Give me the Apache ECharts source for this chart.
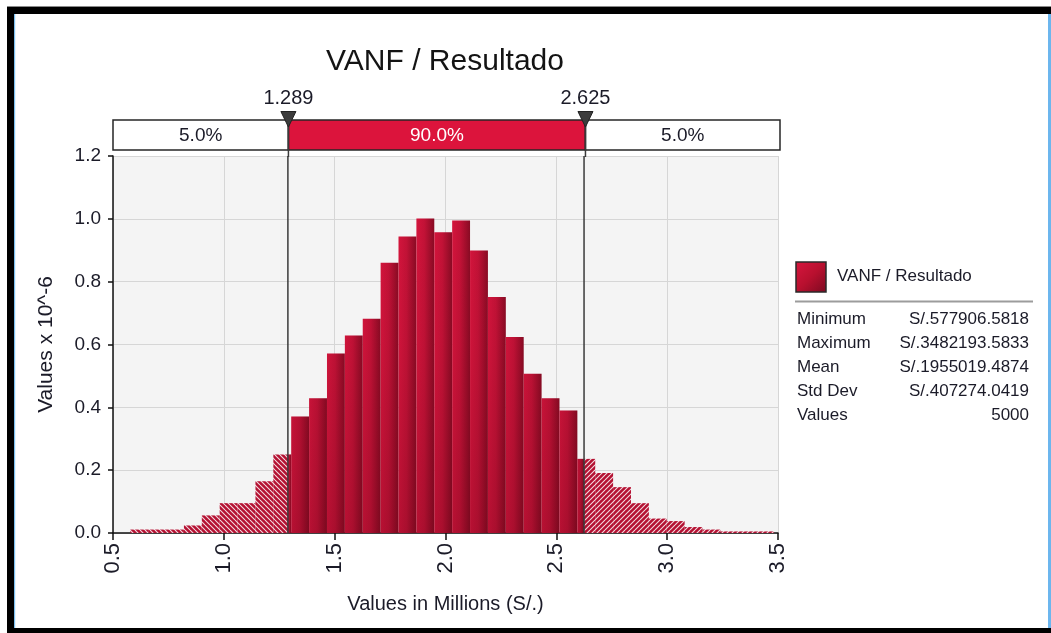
<!DOCTYPE html>
<html>
<head>
<meta charset="utf-8">
<script src="https://cdn.jsdelivr.net/npm/echarts@6/dist/echarts.min.js"></script>
<style>
html,body{margin:0;padding:0;background:#ffffff;}
#chart{width:1051px;height:633px;}
</style>
</head>
<body>
<div id="chart"></div>
<script>
// ---------------- data ----------------
const chartTitle = 'VANF / Resultado';
const xAxisName = 'Values in Millions (S/.)';
const yAxisName = 'Values x 10^-6';
const xRange = [0.5, 3.5];
const xStep = 0.5;
const yRange = [0, 1.2];
const yStep = 0.2;

// histogram: 36 equal bins between the simulated minimum and maximum (millions S/.)
const dataMin = 0.5779065818;
const dataMax = 3.4821935833;
const density = [
  0.011, 0.011, 0.011, 0.024, 0.056, 0.095, 0.095, 0.165, 0.250,
  0.371, 0.429, 0.571, 0.629, 0.682, 0.860, 0.944, 1.001, 0.957,
  0.995, 0.899, 0.751, 0.624, 0.507, 0.429, 0.390, 0.236, 0.191,
  0.146, 0.095, 0.046, 0.038, 0.019, 0.011, 0.005, 0.005, 0.005
];

// delimiters (5% / 95%)
const splitValues = [1.289, 2.625];
const splitLabels = ['1.289', '2.625'];
const bandPercents = ['5.0%', '90.0%', '5.0%'];

// statistics panel
const legendName = 'VANF / Resultado';
const statLabels = ['Minimum', 'Maximum', 'Mean', 'Std Dev', 'Values'];
const statValues = ['S/.577906.5818', 'S/.3482193.5833', 'S/.1955019.4874', 'S/.407274.0419', '5000'];

// ---------------- build ----------------
const FONT = "'Liberation Sans', Arial, sans-serif";
const TXT = '#1b1b28';
const CRIMSON = '#dc143c';

const binW = (dataMax - dataMin) / density.length;
const histData = density.map((d, i) => [dataMin + i * binW, dataMin + (i + 1) * binW, d]);
const bandEdges = [xRange[0]].concat(splitValues, [xRange[1]]);
const bandData = bandPercents.map((p, i) => [bandEdges[i], bandEdges[i + 1], i]);
const lo = splitValues[0], hi = splitValues[1];

function makeHatch(dir) {
  const s = 5;
  const c = document.createElement('canvas');
  c.width = s; c.height = s;
  const g = c.getContext('2d');
  g.fillStyle = '#b41132';
  g.fillRect(0, 0, s, s);
  g.strokeStyle = 'rgba(255,255,255,0.85)';
  g.lineWidth = 1.1;
  for (let k = -1; k <= 2; k++) {
    g.beginPath();
    if (dir === 'back') { g.moveTo(0, k * s); g.lineTo(s, k * s + s); }
    else { g.moveTo(0, k * s); g.lineTo(s, k * s - s); }
    g.stroke();
  }
  return { image: c, repeat: 'repeat' };
}
const hatchLeft = makeHatch('back');
const hatchRight = makeHatch('fwd');

function solidFill() {
  return new echarts.graphic.LinearGradient(0, 0, 1, 0, [
    { offset: 0, color: '#d6153d' },
    { offset: 0.45, color: '#c41237' },
    { offset: 1, color: '#8a0b24' }
  ]);
}

function renderHist(params, api) {
  const x0 = api.value(0), x1 = api.value(1), h = api.value(2);
  const segs = [];
  if (x0 < lo) segs.push([x0, Math.min(x1, lo), hatchLeft]);
  const s0 = Math.max(x0, lo), s1 = Math.min(x1, hi);
  if (s1 > s0) segs.push([s0, s1, null]);
  if (x1 > hi) segs.push([Math.max(x0, hi), x1, hatchRight]);
  const top = api.coord([xRange[0], yRange[1]])[1];
  const base = api.coord([xRange[0], yRange[0]])[1];
  const children = [];
  segs.forEach(sg => {
    const a = api.coord([sg[0], h]);
    const b = api.coord([sg[1], 0]);
    const shape = { x: a[0], y: a[1], width: b[0] - a[0], height: b[1] - a[1] };
    children.push({ type: 'rect', shape, style: { fill: sg[2] || solidFill(), stroke: null } });
    if (!sg[2]) {
      children.push({ type: 'rect', shape, silent: true, style: { stroke: null,
        fill: new echarts.graphic.LinearGradient(0, top, 0, base, [
          { offset: 0, color: 'rgba(60,0,10,0)' },
          { offset: 0.5, color: 'rgba(60,0,10,0.05)' },
          { offset: 1, color: 'rgba(60,0,10,0.2)' }
        ], true) } });
    }
  });
  return { type: 'group', children };
}

function renderSplitLine(params, api) {
  const v = api.value(0);
  const a = api.coord([v, yRange[0]]);
  const b = api.coord([v, yRange[1]]);
  return { type: 'line', shape: { x1: a[0], y1: a[1], x2: b[0], y2: b[1] },
    style: { stroke: '#3a3a3a', lineWidth: 1.5 } };
}

function renderBand(params, api) {
  const a = api.coord([api.value(0), 1]);
  const b = api.coord([api.value(1), 0]);
  const idx = api.value(2);
  const mid = idx === 1;
  return {
    type: 'group',
    children: [
      { type: 'rect', shape: { x: a[0], y: a[1], width: b[0] - a[0], height: b[1] - a[1] },
        style: { fill: mid ? CRIMSON : '#ffffff', stroke: '#262626', lineWidth: 1.5 } },
      { type: 'text', style: { text: bandPercents[idx], x: (a[0] + b[0]) / 2, y: (a[1] + b[1]) / 2 + 1,
        align: 'center', verticalAlign: 'middle', font: '19px ' + FONT, fill: mid ? '#ffffff' : TXT } }
    ]
  };
}

function renderMarker(params, api) {
  const v = api.value(0);
  const i = params.dataIndex;
  const t = api.coord([v, 1]);
  const bt = api.coord([v, 0]);
  const x = t[0], y = t[1];
  return {
    type: 'group',
    children: [
      { type: 'line', shape: { x1: x, y1: y, x2: x, y2: bt[1] + 7 },
        style: { stroke: '#3a3a3a', lineWidth: 1.5 } },
      { type: 'polygon', shape: { points: [[x - 7.5, y - 8.5], [x + 7.5, y - 8.5], [x, y + 7]] },
        style: { fill: '#3c3c3c', stroke: '#222', lineWidth: 1 } },
      { type: 'text', style: { text: splitLabels[i], x: x, y: y - 22, align: 'center', verticalAlign: 'middle',
        font: '20px ' + FONT, fill: TXT } }
    ]
  };
}

// graphics: frame, title, legend & stats
const graphics = [
  { type: 'rect', shape: { x: 7, y: 6, width: 1044, height: 1 }, style: { fill: '#8a8a8a' }, silent: true },
  { type: 'rect', shape: { x: 7, y: 7, width: 1044, height: 7 }, style: { fill: '#000000' }, silent: true },
  { type: 'rect', shape: { x: 7, y: 7, width: 7, height: 626 }, style: { fill: '#000000' }, silent: true },
  { type: 'rect', shape: { x: 7, y: 628, width: 1044, height: 5 }, style: { fill: '#000000' }, silent: true },
  { type: 'rect', shape: { x: 14, y: 14, width: 1.2, height: 614 }, style: { fill: '#7cc0f0' }, silent: true },
  { type: 'rect', shape: { x: 1048, y: 14, width: 3, height: 614 }, style: { fill: '#6cb6ee' }, silent: true },
  { type: 'text', x: 445, y: 62, style: { text: chartTitle, align: 'center', verticalAlign: 'middle',
      font: '30px ' + FONT, fill: '#141414' } },
  { type: 'rect', shape: { x: 796, y: 262, width: 30, height: 30 },
    style: { fill: new echarts.graphic.LinearGradient(0, 0, 1, 1, [
      { offset: 0, color: '#d8163e' }, { offset: 0.5, color: '#b8102f' }, { offset: 1, color: '#7a0a20' }]),
      stroke: '#2a2a2a', lineWidth: 1.5 } },
  { type: 'text', x: 837, y: 276.5, style: { text: legendName, align: 'left', verticalAlign: 'middle',
      font: '17px ' + FONT, fill: TXT } },
  { type: 'rect', shape: { x: 795, y: 300.5, width: 238, height: 2 }, style: { fill: '#9c9c9c' } }
];
statLabels.forEach((lab, i) => {
  const y = 319.5 + i * 24;
  graphics.push({ type: 'text', x: 797, y: y, style: { text: lab, align: 'left', verticalAlign: 'middle',
    font: '17px ' + FONT, fill: TXT } });
  graphics.push({ type: 'text', x: 1029, y: y, style: { text: statValues[i], align: 'right', verticalAlign: 'middle',
    font: '17px ' + FONT, fill: TXT } });
});

const chart = echarts.init(document.getElementById('chart'), null, { renderer: 'canvas' });
chart.setOption({
  backgroundColor: '#ffffff',
  animation: false,
  grid: [
    { left: 113, right: 273, top: 156, bottom: 100, show: true, backgroundColor: '#f4f4f4', borderWidth: 0 },
    { left: 113, right: 271, top: 120, height: 30, show: false }
  ],
  xAxis: [
    {
      type: 'value', gridIndex: 0, min: xRange[0], max: xRange[1], interval: xStep,
      name: xAxisName, nameLocation: 'middle', nameGap: 61,
      nameTextStyle: { fontFamily: FONT, fontSize: 20, color: TXT },
      axisLine: { show: true, onZero: false, lineStyle: { color: '#111', width: 1.5 } },
      axisTick: { show: true, inside: false, length: 7, lineStyle: { color: '#111', width: 1.5 } },
      axisLabel: { rotate: 90, margin: 10, fontFamily: FONT, fontSize: 22, color: TXT,
        formatter: v => v.toFixed(1) },
      splitLine: { show: true, lineStyle: { color: '#d6d6d6', width: 1 } }
    },
    { type: 'value', gridIndex: 1, min: xRange[0], max: xRange[1], show: false }
  ],
  yAxis: [
    {
      type: 'value', gridIndex: 0, min: yRange[0], max: yRange[1], interval: yStep,
      name: yAxisName, nameLocation: 'middle', nameGap: 56, nameRotate: 90,
      nameTextStyle: { fontFamily: FONT, fontSize: 21, color: TXT },
      axisLine: { show: true, onZero: false, lineStyle: { color: '#111', width: 1.5 } },
      axisTick: { show: true, inside: false, length: 5, lineStyle: { color: '#111', width: 1.5 } },
      axisLabel: { margin: 12, fontFamily: FONT, fontSize: 19, color: TXT, formatter: v => v.toFixed(1) },
      splitLine: { show: true, lineStyle: { color: '#d6d6d6', width: 1 } }
    },
    { type: 'value', gridIndex: 1, min: 0, max: 1, show: false }
  ],
  series: [
    { type: 'custom', name: legendName, xAxisIndex: 0, yAxisIndex: 0, data: histData,
      renderItem: renderHist, z: 2, clip: false },
    { type: 'custom', xAxisIndex: 0, yAxisIndex: 0, data: splitValues.map(v => [v]),
      renderItem: renderSplitLine, z: 5 },
    { type: 'custom', xAxisIndex: 1, yAxisIndex: 1, data: bandData, renderItem: renderBand, z: 6 },
    { type: 'custom', xAxisIndex: 1, yAxisIndex: 1, data: splitValues.map(v => [v]),
      renderItem: renderMarker, z: 7 }
  ],
  graphic: graphics
});
</script>
</body>
</html>
